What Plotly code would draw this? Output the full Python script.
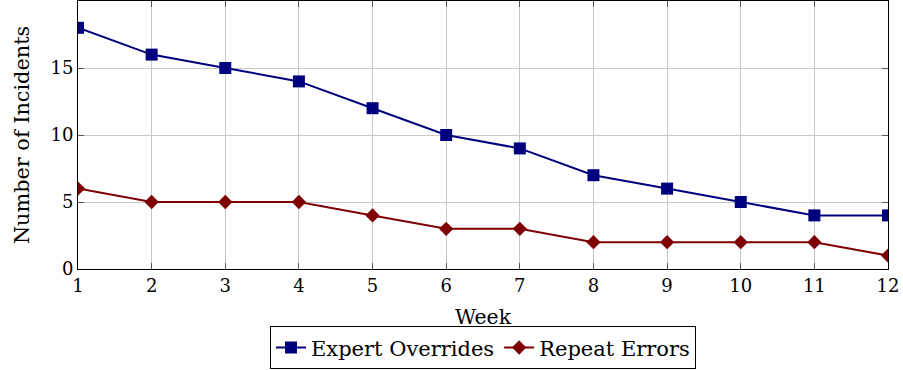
import plotly.graph_objects as go

weeks = [1, 2, 3, 4, 5, 6, 7, 8, 9, 10, 11, 12]
expert_overrides = [18, 16, 15, 14, 12, 10, 9, 7, 6, 5, 4, 4]
repeat_errors = [6, 5, 5, 5, 4, 3, 3, 2, 2, 2, 2, 1]
x_title = "Week"
y_title = "Number of Incidents"

font = "DejaVu Serif"
fig = go.Figure()
fig.add_trace(go.Scatter(x=weeks, y=expert_overrides, mode="lines+markers", name="Expert Overrides",
                         line=dict(color="#00007f", width=2),
                         marker=dict(symbol="square", size=12, color="#00007f")))
fig.add_trace(go.Scatter(x=weeks, y=repeat_errors, mode="lines+markers", name="Repeat Errors",
                         line=dict(color="#7f0000", width=2),
                         marker=dict(symbol="diamond", size=11, color="#7f0000")))

fig.update_layout(
    width=903, height=370,
    margin=dict(l=78, r=15, t=1, b=101, autoexpand=False),
    paper_bgcolor="white", plot_bgcolor="white",
    font=dict(family=font, size=18, color="black"),
    showlegend=True,
    legend=dict(orientation="h", x=0.5, xanchor="center", y=-0.214, yanchor="top",
                bordercolor="black", borderwidth=1, font=dict(size=21),
                tracegroupgap=0),
    xaxis=dict(range=[1, 12], tickvals=weeks, tickfont=dict(size=18), automargin=False,
               showgrid=True, gridcolor="#c8c8c8", gridwidth=1,
               ticks="inside", ticklen=6, tickcolor="#555",
               showline=True, linecolor="black", linewidth=1, mirror="ticks", zeroline=False),
    yaxis=dict(range=[0, 20], tickvals=[0, 5, 10, 15], tickfont=dict(size=18), automargin=False,
               showgrid=True, gridcolor="#c8c8c8", gridwidth=1,
               ticks="inside", ticklen=6, tickcolor="#555",
               showline=True, linecolor="black", linewidth=1, mirror="ticks", zeroline=False),
    annotations=[
        dict(text=x_title, xref="paper", yref="paper", x=0.5, y=-0.18, yanchor="middle",
             showarrow=False, font=dict(size=20.5)),
        dict(text=y_title, xref="paper", yref="paper", x=-0.069, y=0.5, xanchor="center",
             yanchor="middle", textangle=-90, showarrow=False, font=dict(size=20.8)),
    ],
)
fig.write_html("out.html", config={"displayModeBar": False},
               post_script="document.body.style.margin='0';document.body.style.overflow='hidden';")
